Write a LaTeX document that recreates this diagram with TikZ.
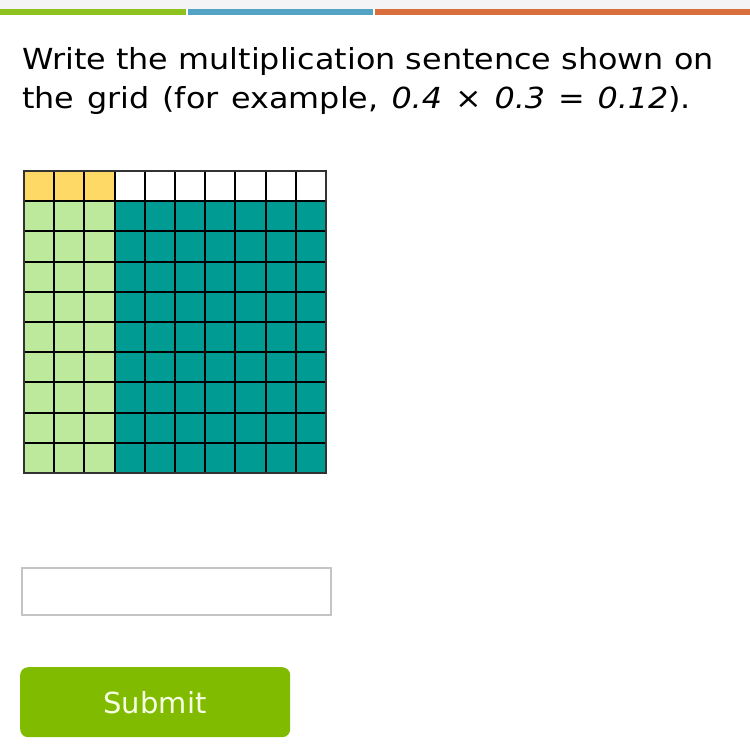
\documentclass[tikz,border=0pt]{standalone}
\usepackage{fontspec}
\setmainfont{DejaVu Sans}
\newfontfamily\qfont[FakeStretch=1.097]{DejaVu Sans}
\definecolor{topbg}{HTML}{F4F4F6}
\definecolor{bargreen}{HTML}{8DC21F}
\definecolor{barblue}{HTML}{52A3C4}
\definecolor{barorange}{HTML}{D86E3C}
\definecolor{cellyellow}{HTML}{FFD966}
\definecolor{cellgreen}{HTML}{BCE99B}
\definecolor{cellteal}{HTML}{009C94}
\definecolor{boxgray}{HTML}{C4C4C4}
\definecolor{btngreen}{HTML}{80BB00}
\definecolor{btntext}{HTML}{F6FFE6}
\tikzset{
  qtext/.style={anchor=base west, inner sep=0pt, font=\qfont\fontsize{29}{36}\selectfont, text=black},
  gridline/.style={draw=black, line width=2pt},
}
\begin{document}
\begin{tikzpicture}[x=1pt,y=-1pt]
\useasboundingbox (0,0) rectangle (750,750);
\fill[white] (0,0) rectangle (750,750);
\fill[topbg] (0,0) rectangle (750,9);
\fill[bargreen] (0,9) rectangle (186,15);
\fill[barblue] (188,9) rectangle (373,15);
\fill[barorange] (375,9) rectangle (750,15);
\node[qtext] (l1) at (22,69) {Write the multiplication sentence shown on};
\node[qtext] (l2) at (22,108) {\spaceskip=12.9pt the grid (for example, \textit{0.4} × \textit{0.3} = \textit{0.12}).};
% grid
\def\gx{24}\def\gy{171}\def\gs{30.2}
\foreach \c in {0,...,9}{
  \foreach \r in {0,...,9}{
    \pgfmathsetmacro{\xa}{\gx+\c*\gs}
    \pgfmathsetmacro{\ya}{\gy+\r*\gs}
    \ifnum\r=0
      \ifnum\c<3 \def\cc{cellyellow}\else\def\cc{white}\fi
    \else
      \ifnum\c<3 \def\cc{cellgreen}\else\def\cc{cellteal}\fi
    \fi
    \fill[\cc] (\xa,\ya) rectangle ++(\gs,\gs);
  }
}
\foreach \i in {1,...,9}{
  \draw[gridline] (\gx+\i*\gs,\gy) -- (\gx+\i*\gs,\gy+10*\gs);
  \draw[gridline] (\gx,\gy+\i*\gs) -- (\gx+10*\gs,\gy+\i*\gs);
}
\draw[draw=black!80, line width=2pt] (\gx,\gy) rectangle (\gx+10*\gs,\gy+10*\gs);
% input box
\node[draw=boxgray, line width=2pt, minimum width=309pt, minimum height=47pt, inner sep=0pt, anchor=north west] (input) at (21,566.5) {};
% submit button
\node[fill=btngreen, rounded corners=8pt, minimum width=270pt, minimum height=70pt, inner sep=0pt, anchor=north west] (submit) at (20,667) {};
\node[anchor=base, inner sep=0pt, font=\fontsize{29}{36}\selectfont, text=btntext] (sublabel) at (155,713) {Submit};
\end{tikzpicture}
\end{document}
